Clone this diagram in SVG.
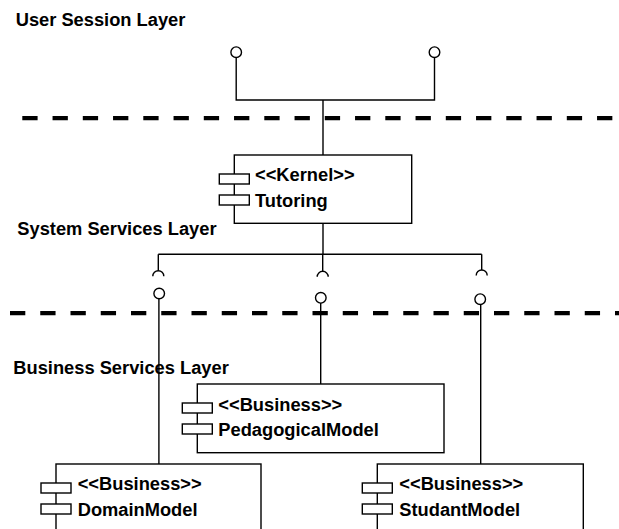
<svg xmlns="http://www.w3.org/2000/svg" width="619" height="529" viewBox="0 0 619 529">
  <style>
    .bg { fill: #ffffff; }
    .layer { stroke: #000; stroke-width: 4.3; stroke-dasharray: 15.3 14.95; fill: none; }
    .ln { stroke: #000; stroke-width: 1.4; fill: none; }
    .lolli { stroke: #000; stroke-width: 1.4; fill: #fff; }
    .box { stroke: #000; stroke-width: 1.4; fill: #fff; }
    .icon { stroke: #000; stroke-width: 1.4; fill: #fff; }
    text { font-family: "Liberation Sans", Arial, Helvetica, sans-serif; font-weight: bold; font-size: 18.3px; fill: #000; }
  </style>
  <rect class="bg" x="0" y="0" width="619" height="529"/>

  <g id="layers">
    <line class="layer" x1="22.3" y1="118.2" x2="614" y2="118.2"/>
    <line class="layer" x1="10" y1="313.2" x2="619" y2="313.2"/>
    <text x="15.7" y="25.5">User Session Layer</text>
    <text x="17.3" y="235">System Services Layer</text>
    <text x="13.3" y="374">Business Services Layer</text>
  </g>

  <g id="connectors">
    <!-- user session interfaces -->
    <polyline class="ln" points="236.2,57.5 236.2,100 434.5,100 434.5,57.5"/>
    <line class="ln" x1="323" y1="100" x2="323" y2="155"/>
    <circle class="lolli" cx="236.2" cy="52.2" r="5.3"/>
    <circle class="lolli" cx="434.5" cy="52.2" r="5.3"/>
    <!-- required interfaces of Tutoring -->
    <line class="ln" x1="323" y1="223.3" x2="323" y2="254.3"/>
    <line class="ln" x1="158.3" y1="254.3" x2="481.7" y2="254.3"/>
    <line class="ln" x1="158.3" y1="254.3" x2="158.3" y2="270.7"/>
    <line class="ln" x1="322.7" y1="254.3" x2="322.7" y2="271.3"/>
    <line class="ln" x1="481.7" y1="254.3" x2="481.7" y2="270"/>
    <path class="ln" d="M152.8,276.2 A5.5,5.5 0 0 1 163.8,276.2"/>
    <path class="ln" d="M317.2,276.8 A5.5,5.5 0 0 1 328.2,276.8"/>
    <path class="ln" d="M476.2,275.5 A5.5,5.5 0 0 1 487.2,275.5"/>
    <!-- provided interfaces of business components -->
    <line class="ln" x1="158.9" y1="298.8" x2="158.9" y2="464"/>
    <line class="ln" x1="320.7" y1="303.1" x2="320.7" y2="384"/>
    <line class="ln" x1="480.7" y1="304.5" x2="480.7" y2="464"/>
    <circle class="lolli" cx="159.2" cy="293.5" r="5.3"/>
    <circle class="lolli" cx="320.8" cy="297.8" r="5.3"/>
    <circle class="lolli" cx="480.2" cy="299.2" r="5.3"/>
  </g>

  <g id="kernel-tutoring">
    <rect class="box" x="234.3" y="155" width="177.4" height="68.3"/>
    <rect class="icon" x="219.3" y="174" width="30" height="10"/>
    <rect class="icon" x="219.3" y="195" width="30" height="10"/>
    <text x="255" y="180.7">&lt;&lt;Kernel&gt;&gt;</text>
    <text x="255" y="206.5">Tutoring</text>
  </g>

  <g id="pedagogical-model">
    <rect class="box" x="197.3" y="384" width="246.7" height="68.7"/>
    <rect class="icon" x="182.3" y="403" width="30" height="10"/>
    <rect class="icon" x="182.3" y="424" width="30" height="10"/>
    <text x="218.3" y="410.5">&lt;&lt;Business&gt;&gt;</text>
    <text x="218.3" y="435.5">PedagogicalModel</text>
  </g>

  <g id="domain-model">
    <rect class="box" x="56" y="464" width="205" height="68.5"/>
    <rect class="icon" x="41" y="483" width="30" height="10"/>
    <rect class="icon" x="41" y="504" width="30" height="10"/>
    <text x="77.7" y="490">&lt;&lt;Business&gt;&gt;</text>
    <text x="77.7" y="515.5">DomainModel</text>
  </g>

  <g id="studant-model">
    <rect class="box" x="377.3" y="464" width="206" height="68.5"/>
    <rect class="icon" x="362.3" y="483" width="30" height="10"/>
    <rect class="icon" x="362.3" y="504" width="30" height="10"/>
    <text x="399.3" y="490">&lt;&lt;Business&gt;&gt;</text>
    <text x="399.3" y="515.5">StudantModel</text>
  </g>
</svg>
